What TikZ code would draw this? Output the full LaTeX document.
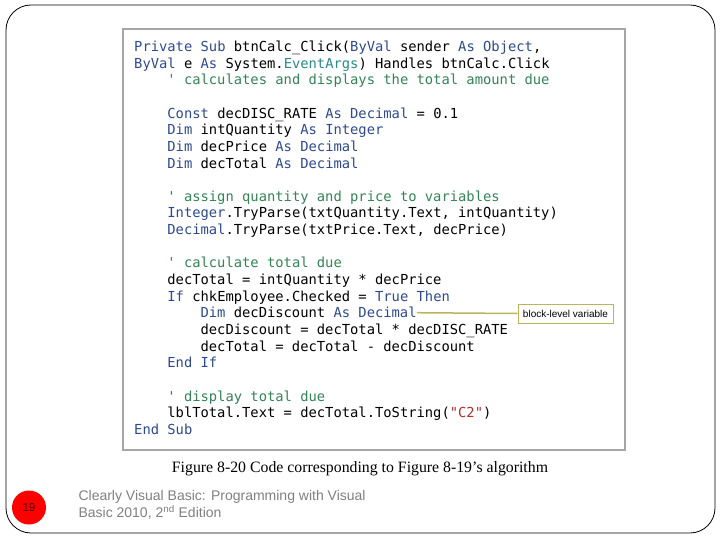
\documentclass[tikz,border=0pt]{standalone}
\usepackage{fontspec}
\setmainfont{Liberation Serif}
\setsansfont{Liberation Sans}
\setmonofont{DejaVu Sans Mono}
\usepackage{tikz}
\usetikzlibrary{positioning}

\definecolor{kwblue}{HTML}{2E4A8E}
\definecolor{cmtgreen}{HTML}{348456}
\definecolor{typeteal}{HTML}{2A8A8A}
\definecolor{strred}{HTML}{B0302A}
\definecolor{boxgray}{HTML}{A6A6A6}
\definecolor{noteline}{HTML}{BDB45A}
\definecolor{footgray}{HTML}{7F7F7F}

\newcommand{\kw}[1]{\textcolor{kwblue}{#1}}
\newcommand{\cm}[1]{\textcolor{cmtgreen}{#1}}
\newcommand{\ty}[1]{\textcolor{typeteal}{#1}}
\newcommand{\str}[1]{\textcolor{strred}{#1}}

\begin{document}
\begin{tikzpicture}[x=1pt,y=-1pt,
  codeline/.style={anchor=base west,inner sep=0pt,font=\fontsize{13.8}{16}\ttfamily},
  notebox/.style={draw=noteline,line width=1pt,fill=white,minimum width=95pt,minimum height=19pt,inner sep=0pt,font=\fontsize{10}{12}\sffamily}]
\useasboundingbox (0,0) rectangle (720,540);
% slide frame
\draw[line width=0.8pt,rounded corners=25pt] (6,5) rectangle (715,533);
% code box
\draw[boxgray,line width=1.5pt,fill=white] (123,29) rectangle (625,450);

\node[codeline] (l0) at (134,51.5) {\kw{Private Sub} btnCalc\_Click(\kw{ByVal} sender \kw{As Object},};
\node[codeline] (l1) at (134,68.15) {\kw{ByVal} e \kw{As} System.\ty{EventArgs}) Handles btnCalc.Click};
\node[codeline] (l2) at (167.2,84.8) {\cm{' calculates and displays the total amount due}};
\node[codeline] (l4) at (167.2,118.1) {\kw{Const} decDISC\_RATE \kw{As Decimal} = 0.1};
\node[codeline] (l5) at (167.2,134.75) {\kw{Dim} intQuantity \kw{As Integer}};
\node[codeline] (l6) at (167.2,151.4) {\kw{Dim} decPrice \kw{As Decimal}};
\node[codeline] (l7) at (167.2,168.05) {\kw{Dim} decTotal \kw{As Decimal}};
\node[codeline] (l9) at (167.2,201.35) {\cm{' assign quantity and price to variables}};
\node[codeline] (l10) at (167.2,218) {\kw{Integer}.TryParse(txtQuantity.Text, intQuantity)};
\node[codeline] (l11) at (167.2,234.65) {\kw{Decimal}.TryParse(txtPrice.Text, decPrice)};
\node[codeline] (l13) at (167.2,267.95) {\cm{' calculate total due}};
\node[codeline] (l14) at (167.2,284.6) {decTotal = intQuantity * decPrice};
\node[codeline] (l15) at (167.2,301.25) {\kw{If} chkEmployee.Checked = \kw{True Then}};
\node[codeline] (l16) at (200.4,317.9) {\kw{Dim} decDiscount \kw{As Decimal}};
\node[codeline] (l17) at (200.4,334.55) {decDiscount = decTotal * decDISC\_RATE};
\node[codeline] (l18) at (200.4,351.2) {decTotal = decTotal - decDiscount};
\node[codeline] (l19) at (167.2,367.85) {\kw{End If}};
\node[codeline] (l21) at (167.2,401.15) {\cm{' display total due}};
\node[codeline] (l22) at (167.2,417.8) {lblTotal.Text = decTotal.ToString(\str{"C2"})};
\node[codeline] (l23) at (134,434.45) {\kw{End Sub}};

% callout
\node[notebox] (block) at (565.5,313.5) {block-level variable};
\draw[noteline,line width=1.5pt] (l16.east) -- (block.west);

% caption and footer
\node[font=\fontsize{15.8}{18}\selectfont] (caption) at (360,468.5) {Figure 8-20 Code corresponding to Figure 8-19’s algorithm};
\node[circle,fill=red,minimum size=34pt,inner sep=0pt,font=\fontsize{11.5}{13}\sffamily,text=black!75!red] (page) at (29,507.5) {19};
\node[anchor=west,align=left,text=footgray,font=\fontsize{14}{17}\sffamily] (source) at (75,505) {Clearly Visual Basic: Programming with Visual\\Basic 2010, 2\textsuperscript{nd} Edition};
\end{tikzpicture}
\end{document}
